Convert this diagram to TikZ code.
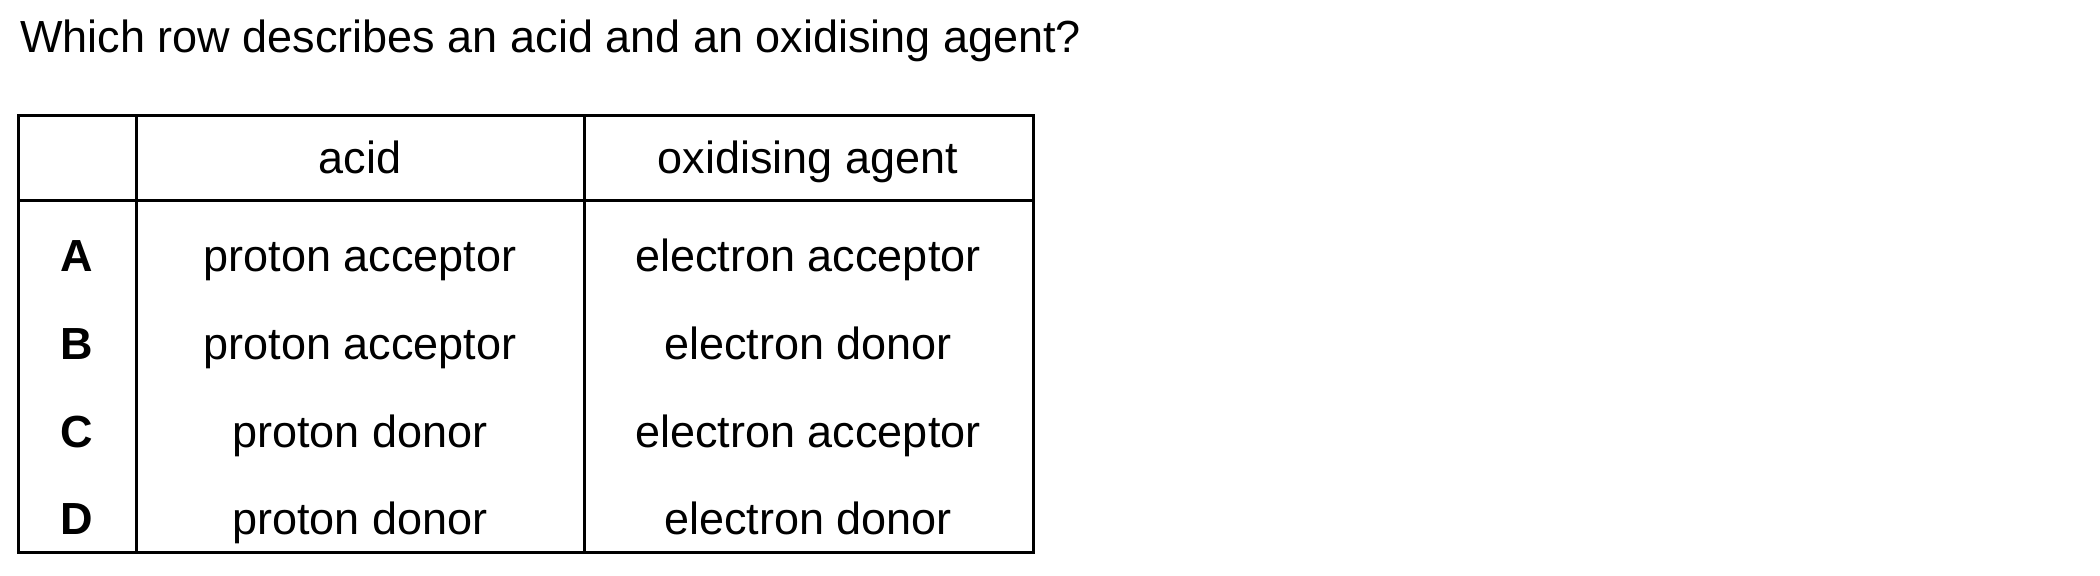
\documentclass[tikz,border=0pt]{standalone}
\usepackage{fontspec}
\setmainfont{Liberation Sans}
\usepackage{tikz}

\tikzset{
  txt/.style={anchor=base, inner sep=0pt, font=\fontsize{22.5}{27}\selectfont},
  letter/.style={txt, font=\fontsize{22.5}{27}\selectfont\bfseries},
  rule/.style={line width=1.5pt}
}

\begin{document}
\begin{tikzpicture}[x=0.5pt, y=0.5pt]
  \useasboundingbox (0,0) rectangle (2100,576);

  \node[txt, anchor=base west] (Q) at (20,523) {Which row describes an acid and an oxidising agent?};

  % table frame
  \coordinate (TL) at (18,460);
  \coordinate (BR) at (1033,23);
  \draw[rule] (TL) rectangle (BR);
  \draw[rule] (18,375) -- (1033,375);
  \draw[rule] (136,460) -- (136,23);
  \draw[rule] (584,460) -- (584,23);

  % header
  \node[txt] (H1) at (360,402) {acid};
  \node[txt] (H2) at (808,402) {oxidising agent};

  % rows
  \node[letter] (A) at (77,304) {A};
  \node[txt] (A1) at (360,304) {proton acceptor};
  \node[txt] (A2) at (808,304) {electron acceptor};

  \node[letter] (B) at (77,216) {B};
  \node[txt] (B1) at (360,216) {proton acceptor};
  \node[txt] (B2) at (808,216) {electron donor};

  \node[letter] (C) at (77,128) {C};
  \node[txt] (C1) at (360,128) {proton donor};
  \node[txt] (C2) at (808,128) {electron acceptor};

  \node[letter] (D) at (77,41) {D};
  \node[txt] (D1) at (360,41) {proton donor};
  \node[txt] (D2) at (808,41) {electron donor};
\end{tikzpicture}
\end{document}
